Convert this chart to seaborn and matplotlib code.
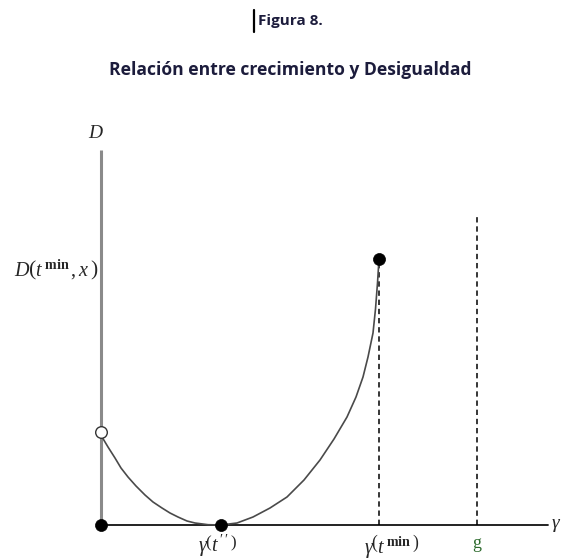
import matplotlib
matplotlib.use("Agg")
import matplotlib.pyplot as plt
import seaborn as sns
import pandas as pd

# Inequality curve D(gamma): falls from the vertical axis to zero at gamma(t''),
# then rises up to gamma(t^min)
curve_x = [0.0, 0.1, 0.7, 1.4, 2.0, 2.7, 3.5, 4.4, 5.2, 6.1, 6.9, 7.7, 8.6, 9.4, 10.7, 12.0,
           13.6, 15.2, 16.9, 18.6, 20.3, 21.9, 23.3, 24.6, 25.5, 26.2,
           26.7, 27.2, 27.45, 27.65, 27.8]
curve_y = [9.3, 8.8, 7.8, 6.7, 5.7, 4.8, 3.9, 3.0, 2.3, 1.7, 1.2, 0.8, 0.4, 0.2, 0.03, 0.0,
           0.2, 0.8, 1.7, 2.8, 4.5, 6.5, 8.6, 10.8, 12.8, 14.8,
           16.8, 19.2, 21.6, 24.2, 26.6]

# Key points
gamma_tpp = 12.0      # gamma(t'')
gamma_tmin = 27.8     # gamma(t^min)
g_value = 37.6        # g
d_start = 9.3         # D at gamma = 0 (open)
d_max = 26.6          # D(t^min, x)
g_line_top = 31.0
axis_y_top = 37.5
axis_x_end = 44.7

title_text = "Figura 8."
subtitle_text = "Relación entre crecimiento y Desigualdad"

sns.set_theme(style="white")
plt.rcParams["mathtext.fontset"] = "custom"
plt.rcParams["mathtext.rm"] = "Liberation Serif"
plt.rcParams["mathtext.it"] = "Liberation Serif:italic"
plt.rcParams["mathtext.bf"] = "Liberation Serif:bold"

fig = plt.figure(figsize=(5.61, 5.59), dpi=100)
ax = fig.add_axes([0, 0, 1, 1])
ax.axis("off")

# Axes of the diagram
ax.plot([0, 0], [0, axis_y_top], color="#8a8a8a", lw=2.2, solid_capstyle="butt", zorder=2)
ax.plot([0, axis_x_end], [0, 0], color="#111111", lw=1.3, zorder=2)

# Dashed verticals at gamma(t^min) and g
ax.plot([gamma_tmin, gamma_tmin], [0, d_max], color="black", lw=1.1,
        ls=(0, (3.5, 2.5)), zorder=2)
ax.plot([g_value, g_value], [0, g_line_top], color="black", lw=1.1,
        ls=(0, (3.5, 2.5)), zorder=2)

# Curve
curve = pd.DataFrame({"gamma": curve_x, "D": curve_y})
sns.lineplot(data=curve, x="gamma", y="D", sort=False, estimator=None,
             color="#4a4a4a", lw=1.2, ax=ax, zorder=3)

# Filled points
pts = pd.DataFrame({"gamma": [0.0, gamma_tpp, gamma_tmin], "D": [0.0, 0.0, d_max]})
sns.scatterplot(data=pts, x="gamma", y="D", color="black", s=75,
                edgecolor="black", linewidth=0.5, ax=ax, zorder=5)
# Open point
ax.scatter([0.0], [d_start], s=70, facecolor="white", edgecolor="#333333",
           linewidth=1.0, zorder=6)
ax.set_xlim(-10.1, 46.0)
ax.set_ylim(-3.4, 52.5)
ax.set_xlabel("")
ax.set_ylabel("")

# Titles
fig.text(0.517, 0.963, title_text, ha="center", va="center", fontsize=11,
         fontweight="bold", family="Open Sans", color="#1c1c3c")
fig.add_artist(plt.Line2D([0.452, 0.452], [0.943, 0.982], color="black", lw=1.6))
fig.text(0.517, 0.875, subtitle_text, ha="center", va="center", fontsize=12.6,
         fontweight="bold", family="Open Sans", color="#1c1c3c")

# Axis labels
ax.text(-0.5, 39.2, r"$D$", ha="center", va="center", fontsize=14)
ax.text(-0.3, 25.5, r"$D\left(t^{\,\mathbf{min}}\,,x\,\right)$", ha="right",
        va="center", fontsize=14.5)
ax.text(gamma_tpp - 0.3, -2.1, r"$\gamma\left(t^{\,\prime\,\prime}\,\right)$", ha="center",
        va="center", fontsize=14.5)
ax.text(gamma_tmin + 1.3, -2.1, r"$\gamma\left(t^{\,\mathbf{min}}\,\right)$", ha="center",
        va="center", fontsize=14.5)
ax.text(g_value, -1.8, "g", ha="center", va="center", fontsize=13,
        family="Liberation Serif", color="#2e6b2e")
ax.text(45.0, 0.0, r"$\gamma$", ha="left", va="center", fontsize=14)

fig.savefig("out.png", dpi=100, facecolor="white")
